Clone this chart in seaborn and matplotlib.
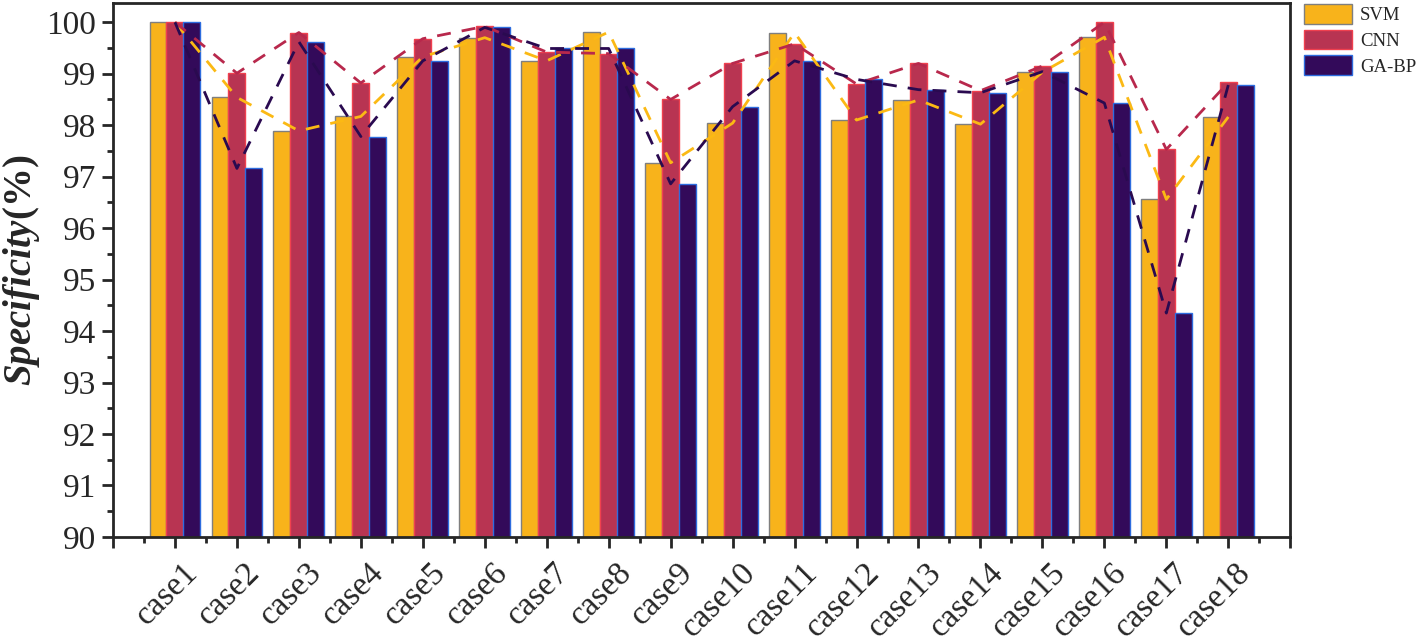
import numpy as np
import pandas as pd
import matplotlib
matplotlib.use("Agg")
import matplotlib.pyplot as plt
import matplotlib.transforms as mtrans
from matplotlib.ticker import MultipleLocator
import seaborn as sns

# values
cases = [f"case{i}" for i in range(1, 19)]
svm = [100.0, 98.54, 97.89, 98.17, 99.33, 99.70, 99.25, 99.81, 97.27,
       98.04, 99.80, 98.10, 98.49, 98.02, 99.03, 99.71, 96.56, 98.16]
cnn = [100.0, 99.01, 99.80, 98.82, 99.68, 99.92, 99.42, 99.39, 98.50,
       99.20, 99.58, 98.80, 99.20, 98.67, 99.15, 100.0, 97.53, 98.83]
gabp = [100.0, 97.16, 99.62, 97.78, 99.25, 99.90, 99.49, 99.49, 96.86,
        98.36, 99.25, 98.89, 98.69, 98.63, 99.04, 98.43, 94.35, 98.78]
models = ["SVM", "CNN", "GA-BP"]

fill = {"SVM": "#F8B31B", "CNN": "#B83452", "GA-BP": "#330A5A"}
edge = {"SVM": "#7F7F7F", "CNN": "#F0404F", "GA-BP": "#2D6CDF"}
line = {"SVM": "#FBB914", "CNN": "#B8284C", "GA-BP": "#2A0A50"}

df = pd.DataFrame({
    "case": cases * 3,
    "model": [m for m in models for _ in cases],
    "value": svm + cnn + gabp,
})

sns.set_style("ticks")
plt.rcParams["font.family"] = ["Liberation Serif", "DejaVu Serif"]
plt.rcParams["mathtext.fontset"] = "custom"
plt.rcParams["mathtext.rm"] = "Liberation Serif"
plt.rcParams["mathtext.bf"] = "Liberation Serif:bold"
plt.rcParams["mathtext.bfit"] = "Liberation Serif:italic:bold"
plt.rcParams["mathtext.it"] = "Liberation Serif:italic"

fig = plt.figure(figsize=(14.16, 6.4), dpi=100)
ax = fig.add_axes([0.0798, 0.161, 0.8314, 0.834])

sns.barplot(data=df, x="case", y="value", hue="model", order=cases,
            hue_order=models, palette=fill, width=0.82, gap=0,
            saturation=1, legend=False, ax=ax)

for cont, m in zip(ax.containers, models):
    for b in cont:
        b.set_edgecolor(edge[m])
        b.set_linewidth(1.0)

pos = np.arange(len(cases))
for m, vals in zip(models, [svm, cnn, gabp]):
    sns.lineplot(x=pos, y=vals, color=line[m], linestyle=(0, (5, 4)),
                 linewidth=2, legend=False, ax=ax, zorder=5)

ax.set_ylim(90, 100.37)
ax.set_xlim(-1, 18)
ax.yaxis.set_major_locator(MultipleLocator(1))
ax.yaxis.set_minor_locator(MultipleLocator(0.5))
ax.set_xticks(np.arange(-1, 19))
ax.set_xticklabels([""] + cases + [""])
ax.xaxis.set_minor_locator(MultipleLocator(0.5))
ax.tick_params(axis="both", which="major", direction="out", length=8,
               width=2, labelsize=24)
ax.tick_params(axis="both", which="minor", direction="out", length=4, width=2)
ax.tick_params(axis="x", which="major", pad=12)
ax.tick_params(axis="y", which="major", pad=4)
shift = mtrans.ScaledTranslation(18 / 100, -3 / 100, fig.dpi_scale_trans)
for lab in ax.get_xticklabels():
    lab.set_rotation(45)
    lab.set_ha("right")
    lab.set_va("center")
    lab.set_rotation_mode("anchor")
    lab.set_transform(lab.get_transform() + shift)
for s in ax.spines.values():
    s.set_linewidth(2)
ax.set_xlabel("")
ax.set_ylabel(r"$\mathbfit{Specificity}$(%)", fontsize=28, fontweight="bold",
              labelpad=3)

handles = [plt.Rectangle((0, 0), 1, 1, facecolor=fill[m], edgecolor=edge[m],
                         linewidth=1) for m in models]
fig.legend(handles, models, loc="upper left", bbox_to_anchor=(0.918, 1.0),
           frameon=False, fontsize=13.5, handlelength=2.6, handleheight=1.25,
           handletextpad=0.4, labelspacing=0.3, borderaxespad=0,
           borderpad=0.2)

fig.savefig("out.png", dpi=100)
